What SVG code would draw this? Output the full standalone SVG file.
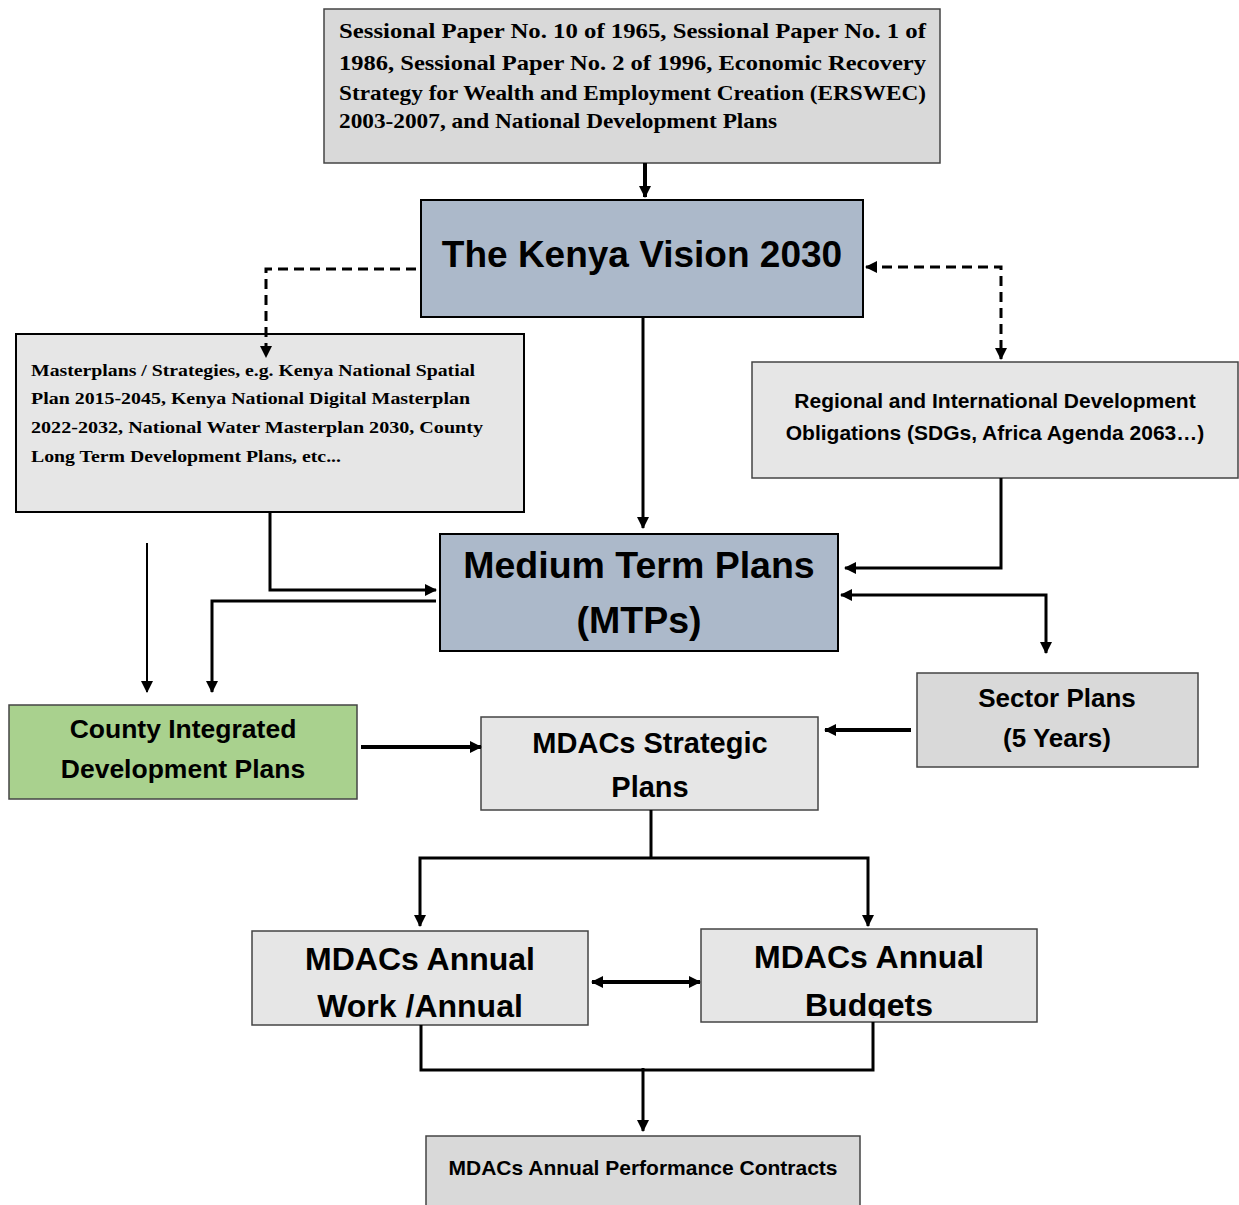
<svg xmlns="http://www.w3.org/2000/svg" width="1239" height="1205" viewBox="0 0 1239 1205">
<style>
.sans{font-family:"Liberation Sans",Arial,sans-serif;font-weight:bold;fill:#000}
.serif{font-family:"Liberation Serif","Times New Roman",serif;font-weight:bold;fill:#000}
.c{text-anchor:middle}
.ln{fill:none;stroke:#000;stroke-width:3}
.thin{fill:none;stroke:#000;stroke-width:2}
.dash{fill:none;stroke:#000;stroke-width:3;stroke-dasharray:10,6}
.box{stroke:#000;stroke-width:2}
.gbox{stroke:#444;stroke-width:1.5}
</style>
<defs>
<marker id="ah" viewBox="0 0 12 12" refX="11" refY="6" markerWidth="12" markerHeight="12" markerUnits="userSpaceOnUse" orient="auto-start-reverse">
<path d="M0,0 L12,6 L0,12 Z" fill="#000"/>
</marker>
<clipPath id="clipW"><rect x="252" y="931" width="336" height="89"/></clipPath>
<clipPath id="clipB"><rect x="701" y="929" width="336" height="89"/></clipPath>
</defs>

<g id="sessional">
<rect x="324" y="9" width="616" height="154" fill="#d9d9d9" class="gbox"/>
<text class="serif" font-size="21" x="339" y="38" textLength="587" lengthAdjust="spacingAndGlyphs">Sessional Paper No. 10 of 1965, Sessional Paper No. 1 of</text>
<text class="serif" font-size="21" x="339" y="70" textLength="587" lengthAdjust="spacingAndGlyphs">1986, Sessional Paper No. 2 of 1996, Economic Recovery</text>
<text class="serif" font-size="21" x="339" y="100" textLength="587" lengthAdjust="spacingAndGlyphs">Strategy for Wealth and Employment Creation (ERSWEC)</text>
<text class="serif" font-size="21" x="339" y="128" textLength="438" lengthAdjust="spacingAndGlyphs">2003-2007, and National Development Plans</text>
</g>

<g id="vision">
<rect x="421" y="200" width="442" height="117" fill="#acb9ca" class="box"/>
<text class="sans c" font-size="37" x="642" y="267">The Kenya Vision 2030</text>
</g>

<g id="masterplans">
<rect x="16" y="334" width="508" height="178" fill="#e6e6e6" class="box"/>
<text class="serif" font-size="17.5" x="31" y="376" textLength="444" lengthAdjust="spacingAndGlyphs">Masterplans / Strategies, e.g. Kenya National Spatial</text>
<text class="serif" font-size="17.5" x="31" y="404" textLength="439" lengthAdjust="spacingAndGlyphs">Plan 2015-2045, Kenya National Digital Masterplan</text>
<text class="serif" font-size="17.5" x="31" y="433" textLength="452" lengthAdjust="spacingAndGlyphs">2022-2032, National Water Masterplan 2030, County</text>
<text class="serif" font-size="17.5" x="31" y="462" textLength="310" lengthAdjust="spacingAndGlyphs">Long Term Development Plans, etc...</text>
</g>

<g id="regional">
<rect x="752" y="362" width="486" height="116" fill="#e6e6e6" class="gbox"/>
<text class="sans c" font-size="21" x="995" y="408">Regional and International Development</text>
<text class="sans c" font-size="21" x="995" y="440">Obligations (SDGs, Africa Agenda 2063…)</text>
</g>

<g id="mtp">
<rect x="440" y="534" width="398" height="117" fill="#acb9ca" class="box"/>
<text class="sans c" font-size="37.5" x="639" y="578">Medium Term Plans</text>
<text class="sans c" font-size="37.5" x="639" y="633">(MTPs)</text>
</g>

<g id="county">
<rect x="9" y="705" width="348" height="94" fill="#a9d18e" class="gbox"/>
<text class="sans c" font-size="26.5" x="183" y="738">County Integrated</text>
<text class="sans c" font-size="26.5" x="183" y="778">Development Plans</text>
</g>

<g id="strategic">
<rect x="481" y="717" width="337" height="93" fill="#e6e6e6" class="gbox"/>
<text class="sans c" font-size="29" x="650" y="753">MDACs Strategic</text>
<text class="sans c" font-size="29" x="650" y="797">Plans</text>
</g>

<g id="sector">
<rect x="917" y="673" width="281" height="94" fill="#d9d9d9" class="gbox"/>
<text class="sans c" font-size="26" x="1057" y="707">Sector Plans</text>
<text class="sans c" font-size="26" x="1057" y="747">(5 Years)</text>
</g>

<g id="annualwork">
<rect x="252" y="931" width="336" height="94" fill="#e6e6e6" class="gbox"/>
<g clip-path="url(#clipW)">
<text class="sans c" font-size="32" x="420" y="970">MDACs Annual</text>
<text class="sans c" font-size="32" x="420" y="1017">Work /Annual</text>
</g>
</g>

<g id="budgets">
<rect x="701" y="929" width="336" height="93" fill="#e6e6e6" class="gbox"/>
<g clip-path="url(#clipB)">
<text class="sans c" font-size="32" x="869" y="968">MDACs Annual</text>
<text class="sans c" font-size="32" x="869" y="1016">Budgets</text>
</g>
</g>

<g id="contracts">
<rect x="426" y="1136" width="434" height="75" fill="#d9d9d9" class="gbox"/>
<text class="sans c" font-size="21" x="643" y="1175">MDACs Annual Performance Contracts</text>
</g>

<g id="connectors">
<path class="ln" d="M645,163 V197" marker-end="url(#ah)" style="stroke-width:4"/>
<path class="dash" d="M416,269 H266 V357" marker-end="url(#ah)"/>
<path class="dash" d="M866,267 H1001 V359" marker-start="url(#ah)" marker-end="url(#ah)"/>
<path class="ln" d="M643,317 V528" marker-end="url(#ah)"/>
<path class="ln" d="M1001,478 V568 H845" marker-end="url(#ah)"/>
<path class="ln" d="M841,595 H1046 V653" marker-start="url(#ah)" marker-end="url(#ah)"/>
<path class="ln" d="M270,512 V590 H436" marker-end="url(#ah)"/>
<path class="ln" d="M436,601 H212 V692" marker-end="url(#ah)"/>
<path class="thin" d="M147,543 V692" marker-end="url(#ah)"/>
<path class="ln" d="M361,747 H481" marker-end="url(#ah)" style="stroke-width:4"/>
<path class="ln" d="M911,730 H825" marker-end="url(#ah)" style="stroke-width:4"/>
<path class="ln" d="M651,810 V858"/>
<path class="ln" d="M420,926 V858 H868 V926" marker-start="url(#ah)" marker-end="url(#ah)"/>
<path class="ln" d="M592,982 H700" marker-start="url(#ah)" marker-end="url(#ah)" style="stroke-width:4"/>
<path class="ln" d="M421,1025 V1070 H873 V1022"/>
<path class="ln" d="M643,1068 V1131" marker-end="url(#ah)"/>
</g>
</svg>
